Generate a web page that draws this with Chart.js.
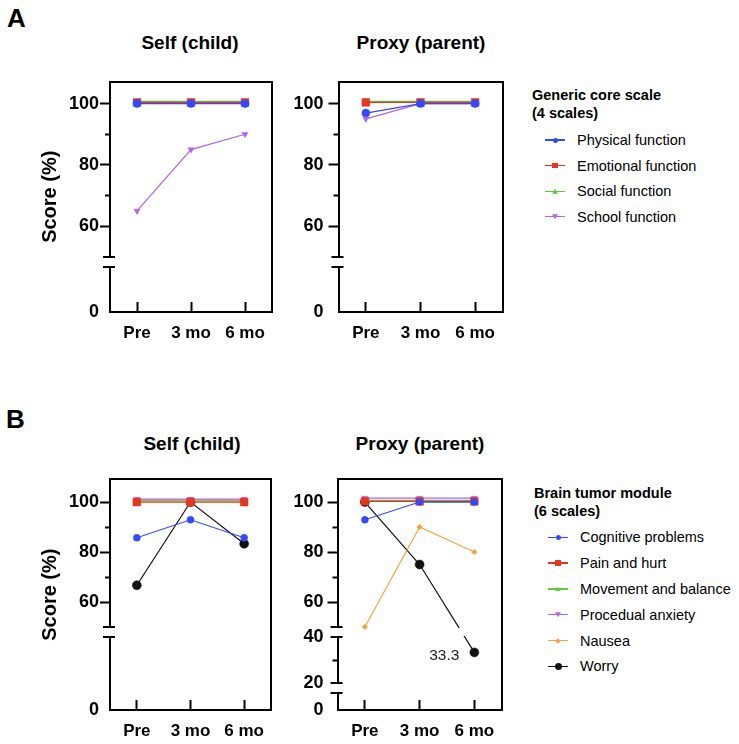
<!DOCTYPE html>
<html>
<head>
<meta charset="utf-8">
<script src="https://cdn.jsdelivr.net/npm/chart.js@4.4.0/dist/chart.umd.min.js"></script>
<style>
  body { margin: 0; width: 739px; height: 744px; position: relative; background: #fff; overflow: hidden;
         font-family: 'Liberation Sans', Arial, sans-serif; color: #000; }
  canvas { position: absolute; }
  .txt { position: absolute; white-space: nowrap; }
  .panel { font-weight: bold; font-size: 26px; line-height: 26px; }
  .title { font-weight: bold; font-size: 19px; line-height: 19px; width: 200px; text-align: center; }
  .lgtitle { font-weight: bold; font-size: 14.5px; line-height: 18px; }
  .lgitem { font-size: 14.5px; line-height: 18px; }
  .lgline { position: absolute; width: 20px; height: 1.3px; }
  .lgmark { position: absolute; }
</style>
</head>
<body>
<div class="txt panel" style="left:7px; top:5px">A</div>
<div class="txt panel" style="left:6px; top:406px">B</div>
<div class="txt title" style="left:90px; top:32.5px">Self (child)</div>
<div class="txt title" style="left:321px; top:32.5px">Proxy (parent)</div>
<div class="txt title" style="left:92px; top:434px">Self (child)</div>
<div class="txt title" style="left:320px; top:434px">Proxy (parent)</div>

<div id="legends"></div>

<canvas id="aSelf" width="290" height="300" style="left:0; top:60px"></canvas>
<canvas id="aProxy" width="230" height="300" style="left:290px; top:60px"></canvas>
<canvas id="bSelf" width="290" height="304" style="left:0; top:440px"></canvas>
<canvas id="bProxy" width="230" height="304" style="left:290px; top:440px"></canvas>

<script>
const timepoints = ['Pre', '3 mo', '6 mo'];

const genericNames = ['Physical function', 'Emotional function', 'Social function', 'School function'];
const moduleNames = ['Cognitive problems', 'Pain and hurt', 'Movement and balance', 'Procedual anxiety', 'Nausea', 'Worry'];

// A: generic core scale (lines at 100 sit slightly above each other in the figure)
const selfPhysical = [100, 100, 100];
const selfEmotional = [100.4, 100.4, 100.4];
const selfSocial = [100.7, 100.7, 100.7];
const selfSchool = [65, 85, 90];

const proxyPhysical = [96.9, 100, 100];
const proxyEmotional = [100.4, 100.4, 100.4];
const proxySocial = [100.7, 100.7, 100.7];
const proxySchool = [95, 100, 100];

// B: brain tumor module
const selfCognitive = [85.7, 92.9, 85.7];
const selfPain = [100, 100, 100];
const selfMovement = [100.5, 100.5, 100.5];
const selfAnxiety = [101.2, 101.2, 101.2];
const selfNausea = [100.8, 100.8, 100.8];
const selfWorry = [66.7, 100, 83.3];

const proxyCognitive = [92.9, 100, 100];
const proxyPain = [100.3, 100.3, 100.3];
const proxyMovement = [100.7, 100.7, 100.7];
const proxyAnxiety = [101.6, 101.6, 101.6];
const proxyNausea = [50, 90, 80];
const proxyWorry = [100, 75, 33.3];

// y ticks (all marks) and the ones that carry a label
const ticksUpper = [0, 60, 70, 80, 90, 100];
const labelsUpper = [0, 60, 80, 100];
const ticksProxyB = [0, 20, 30, 40, 60, 70, 80, 90, 100];
const labelsProxyB = [0, 20, 40, 60, 80, 100];

const blue = '#3349ff', red = '#e5361f', green = '#62c944', purple = '#b462ee', orange = '#f4a340', black = '#111';
const genericStyles = [
  { color: blue, point: 'circle', r: 4 },
  { color: red, point: 'rect', r: 5.5 },
  { color: green, point: 'triangle', r: 3 },
  { color: purple, point: 'triangle', r: 3.5, rot: 180 },
];
const moduleStyles = [
  { color: blue, point: 'circle', r: 3.5 },
  { color: red, point: 'rect', r: 5.5 },
  { color: green, point: 'triangle', r: 3 },
  { color: purple, point: 'triangle', r: 3.5, rot: 180 },
  { color: orange, point: 'rectRot', r: 2.8 },
  { color: black, point: 'circle', r: 4.5 },
];

// axis segments: [valueFrom, valueTo, pxFrom, pxTo] measured up from the x axis; gaps between them
const layouts = {
  aSelf:  { segs: [[0, 8, 0, 45], [50, 107.2, 55, 230.5]], ticks: ticksUpper, labels: labelsUpper,
            yWidth: 110, xHeight: 48, pad: { top: 21.5, right: 18 }, tickPad: 1, yTitle: true },
  aProxy: { segs: [[0, 8, 0, 45], [50, 107.2, 55, 230.5]], ticks: ticksUpper, labels: labelsUpper,
            yWidth: 48.5, xHeight: 48, pad: { top: 21.5, right: 17.5 }, tickPad: 5 },
  bSelf:  { segs: [[0, 8, 0, 73], [50, 109.1, 83, 230.7]], ticks: ticksUpper, labels: labelsUpper,
            yWidth: 110, xHeight: 34, pad: { top: 39.3, right: 19 }, tickPad: 1, yTitle: true },
  bProxy: { segs: [[0, 7, 0, 17], [20, 40, 27, 73], [50, 109.1, 83, 230.7]], ticks: ticksProxyB, labels: labelsProxyB,
            yWidth: 47.5, xHeight: 34, pad: { top: 39.3, right: 18.3 }, tickPad: 4, mask: 5, note: { ds: 5, i: 2 } },
};

// legends (plain html)
function markerCss(st) {
  const c = st.color;
  if (st.point === 'circle') {
    const d = st.color === black ? 7 : 5;
    return `width:${d}px;height:${d}px;border-radius:50%;background:${c};left:${10 - d / 2}px;top:${-d / 2}px`;
  }
  if (st.point === 'rect') return `width:5.5px;height:5.5px;background:${c};left:7.25px;top:-2.75px`;
  if (st.point === 'rectRot') return `width:4px;height:4px;background:${c};left:8px;top:-2px;transform:rotate(45deg)`;
  const shape = st.rot ? 'polygon(0 0,100% 0,50% 100%)' : 'polygon(50% 0,100% 100%,0 100%)';
  return `width:6px;height:5px;background:${c};left:7px;top:-2.5px;clip-path:${shape}`;
}

function buildLegend(title, names, styles, x, titleTop, iconX, textX, itemY, step) {
  let html = '';
  title.forEach((t, i) => {
    html += `<div class="txt lgtitle" style="left:${x}px; top:${titleTop + i * 18}px">${t}</div>`;
  });
  names.forEach((nm, i) => {
    const cy = itemY + i * step;
    html += `<div style="position:absolute; left:${iconX - 10}px; top:${cy}px; width:20px; height:0">` +
      `<div class="lgline" style="left:0; top:-0.65px; background:${styles[i].color}"></div>` +
      `<div class="lgmark" style="${markerCss(styles[i])}"></div></div>`;
    html += `<div class="txt lgitem" style="left:${textX}px; top:${cy - 9}px">${nm}</div>`;
  });
  return html;
}

document.getElementById('legends').innerHTML =
  buildLegend(['Generic core scale', '(4 scales)'], genericNames, genericStyles, 532, 86, 555, 577, 140, 25.6) +
  buildLegend(['Brain tumor module', '(6 scales)'], moduleNames, moduleStyles, 534, 483.5, 558, 580, 537.3, 25.8);

function knotsOf(segs) {
  const k = [];
  segs.forEach(s => { k.push([s[0], s[2]]); k.push([s[1], s[3]]); });
  return k;
}

class BrokenScale extends Chart.LinearScale {
  static id = 'broken';
  static defaults = {};
  buildTicks() {
    return layouts[this.chart.canvas.id].ticks.map(v => ({ value: v }));
  }
  getPixelForValue(value) {
    if (value === null || value === undefined || isNaN(value)) return NaN;
    const k = knotsOf(layouts[this.chart.canvas.id].segs);
    const total = k[k.length - 1][1];
    let j = 0;
    while (j < k.length - 2 && value > k[j + 1][0]) j++;
    const off = k[j][1] + (value - k[j][0]) / (k[j + 1][0] - k[j][0]) * (k[j + 1][1] - k[j][1]);
    return this.bottom - off / total * (this.bottom - this.top);
  }
}
Chart.register(BrokenScale);

// axis breaks: white gap in the left axis plus the two short marks, and the value note
const breaksPlugin = {
  id: 'axisBreaks',
  afterDatasetDraw(chart, args) {
    const lay = layouts[chart.canvas.id];
    if (lay.mask !== args.index) return;
    const { ctx, chartArea: a } = chart;
    const y = chart.scales.y;
    ctx.save();
    ctx.fillStyle = '#fff';
    for (let i = 0; i < lay.segs.length - 1; i++) {
      const lo = y.getPixelForValue(lay.segs[i][1]);
      const hi = y.getPixelForValue(lay.segs[i + 1][0]);
      ctx.fillRect(a.left + 2, hi + 1, a.right - a.left - 4, lo - hi - 2);
    }
    ctx.restore();
  },
  afterDraw(chart) {
    const lay = layouts[chart.canvas.id];
    const { ctx, chartArea: a } = chart;
    const y = chart.scales.y;
    ctx.save();
    for (let i = 0; i < lay.segs.length - 1; i++) {
      const lo = y.getPixelForValue(lay.segs[i][1]);
      const hi = y.getPixelForValue(lay.segs[i + 1][0]);
      ctx.fillStyle = '#fff';
      ctx.fillRect(a.left - 4, hi + 1, 6, lo - hi - 2);
      ctx.fillStyle = '#000';
      ctx.fillRect(a.left - 7, hi - 1, 12, 2);
      ctx.fillRect(a.left - 7, lo - 1, 12, 2);
    }
    if (lay.note) {
      const pt = chart.getDatasetMeta(lay.note.ds).data[lay.note.i];
      const v = chart.data.datasets[lay.note.ds].data[lay.note.i];
      ctx.fillStyle = '#222';
      ctx.font = "15.5px 'Liberation Sans', Arial, sans-serif";
      ctx.textAlign = 'right';
      ctx.textBaseline = 'middle';
      ctx.fillText(v.toFixed(1), pt.x - 15, pt.y + 3);
    }
    ctx.restore();
  }
};
Chart.register(breaksPlugin);

Chart.defaults.font.family = "'Liberation Sans', Arial, sans-serif";
Chart.defaults.color = '#000';

const frameBorder = { display: true, width: 2, color: '#000' };

function makeChart(id, names, styles, series) {
  const lay = layouts[id];
  const top = lay.segs[lay.segs.length - 1][1];
  const edges = lay.segs.flatMap(s => [s[0], s[1]]);
  new Chart(document.getElementById(id), {
    type: 'line',
    data: {
      labels: timepoints,
      datasets: series.map((d, i) => ({
        label: names[i],
        data: d,
        borderColor: styles[i].color,
        backgroundColor: styles[i].color,
        pointBorderColor: styles[i].color,
        pointBackgroundColor: styles[i].color,
        borderWidth: 1.2,
        pointStyle: styles[i].point,
        pointRadius: styles[i].r,
        pointRotation: styles[i].rot || 0,
        pointBorderWidth: 0.5,
        tension: 0,
      })),
    },
    options: {
      responsive: false,
      animation: false,
      layout: { padding: { left: 0, top: lay.pad.top, right: lay.pad.right, bottom: 0 } },
      plugins: { legend: { display: false }, tooltip: { enabled: false } },
      scales: {
        x: {
          type: 'category',
          offset: true,
          border: frameBorder,
          // ticks point up into the plot
          grid: { display: true, drawOnChartArea: false, drawTicks: true, tickLength: -10, tickWidth: 2, tickColor: '#000' },
          ticks: { font: { size: 17, weight: 'bold' }, padding: 21, maxRotation: 0, autoSkip: false },
          afterFit: s => { s.height = lay.xHeight; },
        },
        top: {
          type: 'category',
          position: 'top',
          display: true,
          border: frameBorder,
          grid: { display: false },
          ticks: { display: false },
          afterFit: s => { s.height = 0; },
        },
        y: {
          type: 'broken',
          min: 0,
          max: top,
          border: frameBorder,
          grid: {
            display: true,
            drawOnChartArea: false,
            drawTicks: true,
            tickLength: 10,
            tickWidth: 2,
            tickColor: c => (c.tick && edges.includes(c.tick.value)) ? 'rgba(0,0,0,0)' : '#000',
            tickBorderDash: c => (c.tick && !lay.labels.includes(c.tick.value)) ? [0, 5, 5] : [],
          },
          ticks: {
            font: { size: 18, weight: 'bold' },
            padding: lay.tickPad,
            autoSkip: false,
            callback: v => lay.labels.includes(v) ? String(v) : '',
          },
          title: {
            display: !!lay.yTitle,
            text: 'Score (%)',
            font: { size: 20, weight: 'bold' },
            padding: { top: 38, bottom: 0 },
          },
          afterFit: s => { s.width = lay.yWidth; },
        },
        right: {
          type: 'linear',
          position: 'right',
          display: true,
          min: 0,
          max: top,
          border: frameBorder,
          grid: { display: false },
          ticks: { display: false },
          afterFit: s => { s.width = 0; },
        },
      },
    },
  });
}

makeChart('aSelf', genericNames, genericStyles, [selfPhysical, selfEmotional, selfSocial, selfSchool]);
makeChart('aProxy', genericNames, genericStyles, [proxyPhysical, proxyEmotional, proxySocial, proxySchool]);
makeChart('bSelf', moduleNames, moduleStyles, [selfCognitive, selfPain, selfMovement, selfAnxiety, selfNausea, selfWorry]);
makeChart('bProxy', moduleNames, moduleStyles, [proxyCognitive, proxyPain, proxyMovement, proxyAnxiety, proxyNausea, proxyWorry]);
</script>
</body>
</html>
